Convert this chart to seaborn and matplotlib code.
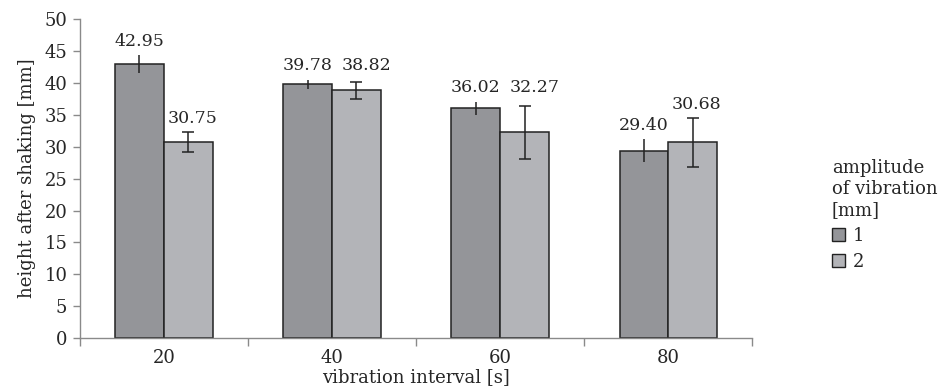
import numpy as np
import pandas as pd
import matplotlib
matplotlib.use("Agg")
import matplotlib.pyplot as plt
import seaborn as sns

# ── DATA ──────────────────────────────────────────────────────────────────────
intervals   = ["20", "40", "60", "80"]
amplitudes  = ["1", "2"]
height_amp1 = [42.95, 39.78, 36.02, 29.40]
height_amp2 = [30.75, 38.82, 32.27, 30.68]
err_amp1    = [1.4, 0.7, 1.05, 1.75]
err_amp2    = [1.5, 1.4, 4.15, 3.8]

df = pd.DataFrame({
    "interval": intervals * 2,
    "amplitude": [amplitudes[0]] * 4 + [amplitudes[1]] * 4,
    "height": height_amp1 + height_amp2,
})

# ── STYLE ─────────────────────────────────────────────────────────────────────
sns.set_style("white")
plt.rcParams["font.family"] = ["DejaVu Serif"]
plt.rcParams["font.size"] = 13

FS     = 13
COLORS = {"1": "#949599", "2": "#b3b4b8"}
EDGE   = "#222222"
AXCOL  = "#8a8a8a"

fig = plt.figure(figsize=(9.5, 3.9), dpi=100)
ax = fig.add_axes([0.084, 0.133, 0.708, 0.818])

sns.barplot(data=df, x="interval", y="height", hue="amplitude",
            hue_order=amplitudes, order=intervals, palette=COLORS,
            width=0.58, errorbar=None, edgecolor=EDGE, linewidth=1.1,
            saturation=1, ax=ax)

# error bars
errs = {"1": err_amp1, "2": err_amp2}
caps = {"1": 0, "2": 4}
for cont, amp in zip(ax.containers, amplitudes):
    for bar, e in zip(cont, errs[amp]):
        xc = bar.get_x() + bar.get_width() / 2
        ax.errorbar(xc, bar.get_height(), yerr=e, fmt="none", ecolor=EDGE,
                    elinewidth=1.1, capsize=caps[amp], capthick=1.1, zorder=5)

# value labels: put above the error bar, nudge apart when two sit at same level
c1, c2 = ax.containers[0], ax.containers[1]
for i in range(len(intervals)):
    b1, b2 = c1[i], c2[i]
    top1 = height_amp1[i] + err_amp1[i]
    top2 = height_amp2[i] + err_amp2[i]
    close = abs(top1 - top2) < 3
    if close:
        top1 = top2 = max(top1, top2)
    for bar, top, val, dx in [(b1, top1, height_amp1[i], 0),
                              (b2, top2, height_amp2[i], 7 if close else 3)]:
        xc = bar.get_x() + bar.get_width() / 2
        ax.annotate(f"{val:.2f}", (xc, top), xytext=(dx, 4),
                    textcoords="offset points", ha="center", va="bottom",
                    fontsize=12.5)

ax.set_ylim(0, 50)
ax.set_xlim(-0.5, 3.5)
ax.set_yticks(np.arange(0, 51, 5))
ax.set_xlabel("vibration interval [s]", fontsize=FS, labelpad=1)
ax.set_ylabel("height after shaking [mm]", fontsize=FS, labelpad=6)

sns.despine(ax=ax)
for s in ["left", "bottom"]:
    ax.spines[s].set_color(AXCOL)
    ax.spines[s].set_linewidth(1.0)
ax.tick_params(axis="y", left=True, direction="out", length=5, width=1.0,
               color=AXCOL, pad=4, labelsize=13)
ax.tick_params(axis="x", which="major", bottom=False, pad=4, labelsize=13)
ax.set_xticks(np.arange(-0.5, 4.0, 1.0), minor=True)
ax.tick_params(axis="x", which="minor", bottom=True, direction="out",
               length=6, width=1.0, color=AXCOL)

# legend
ax.legend_.remove()
handles = [plt.Rectangle((0, 0), 1, 1, facecolor=COLORS[a], edgecolor=EDGE,
                         linewidth=1.0) for a in amplitudes]
fig.legend(handles, amplitudes, title="amplitude\nof vibration\n[mm]",
           loc="upper left", bbox_to_anchor=(0.866, 0.615),
           frameon=False, alignment="left", fontsize=FS,
           title_fontsize=FS, handlelength=0.75, handleheight=0.75,
           handletextpad=0.4, labelspacing=0.45, borderpad=0)

fig.savefig("out.png", dpi=100)
